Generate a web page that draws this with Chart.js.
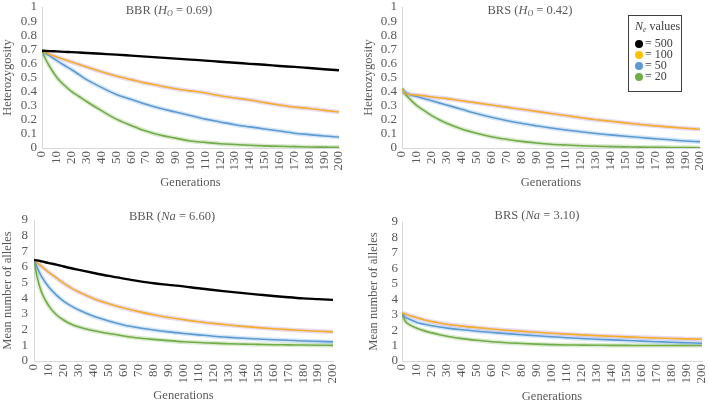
<!DOCTYPE html>
<html>
<head>
<meta charset="utf-8">
<script src="https://cdn.jsdelivr.net/npm/chart.js@4/dist/chart.umd.min.js"></script>
<style>
  html, body { margin: 0; padding: 0; background: #fff; }
  #wrap { position: relative; width: 709px; height: 404px; overflow: hidden;
          font-family: "Liberation Serif", "Times New Roman", serif; color: #595959; }
  canvas { position: absolute; }
  .ttl { position: absolute; font-size: 12.5px; line-height: 1; white-space: nowrap; transform: translate(-50%, -50%); }
  .ttl sub, .leg sub { font-size: 8px; vertical-align: -2px; line-height: 0; }
  .leg { position: absolute; left: 628px; top: 15px; width: 54px; height: 77px; border: 1.5px solid #404040;
         font-size: 12px; color: #404040; line-height: 11px; box-sizing: border-box; padding: 5px 0 0 6px; white-space: nowrap; }
  .leg .hd { margin-bottom: 6px; }
  .leg .dot { display: inline-block; width: 8px; height: 8px; border-radius: 50%; margin-right: 2px; vertical-align: -1px; }
</style>
</head>
<body>
<div id="wrap">
  <canvas id="hetBBR" width="355" height="200" style="left:0;top:0"></canvas>
  <canvas id="hetBRS" width="349" height="200" style="left:360px;top:0"></canvas>
  <canvas id="naBBR" width="355" height="204" style="left:0;top:200px"></canvas>
  <canvas id="naBRS" width="349" height="204" style="left:360px;top:200px"></canvas>

  <div class="ttl" style="left:169px;top:10px">BBR (<i>H<sub>O</sub></i> = 0.69)</div>
  <div class="ttl" style="left:530px;top:10px">BRS (<i>H<sub>O</sub></i> = 0.42)</div>
  <div class="ttl" style="left:172px;top:216px">BBR (<i>Na</i> = 6.60)</div>
  <div class="ttl" style="left:537px;top:215px">BRS (<i>Na</i> = 3.10)</div>

  <div class="leg">
    <div class="hd"><i>N<sub>e</sub></i> values</div>
    <div><span class="dot" style="background:#000"></span>= 500</div>
    <div><span class="dot" style="background:#FFC000"></span>= 100</div>
    <div><span class="dot" style="background:#5B9BD5"></span>= 50</div>
    <div><span class="dot" style="background:#70AD47"></span>= 20</div>
  </div>
</div>
<script>
  var gens = [0, 2, 5, 10, 15, 20, 25, 30, 40, 50, 60, 70, 80, 90, 100, 110, 120, 130, 140, 150, 160, 170, 180, 190, 200];

  // heterozygosity, BBR
  var hetBBR500 = [0.69, 0.689, 0.687, 0.685, 0.682, 0.68, 0.677, 0.674, 0.668, 0.662, 0.655, 0.648, 0.641, 0.634, 0.627, 0.62, 0.612, 0.605, 0.597, 0.59, 0.582, 0.575, 0.567, 0.559, 0.551];
  var hetBBR100 = [0.69, 0.68, 0.665, 0.645, 0.627, 0.61, 0.592, 0.575, 0.54, 0.51, 0.485, 0.46, 0.44, 0.42, 0.405, 0.39, 0.37, 0.355, 0.34, 0.322, 0.305, 0.29, 0.28, 0.267, 0.255];
  var hetBBR50 = [0.69, 0.675, 0.655, 0.62, 0.587, 0.555, 0.52, 0.485, 0.43, 0.38, 0.345, 0.31, 0.28, 0.255, 0.23, 0.205, 0.185, 0.165, 0.15, 0.135, 0.12, 0.105, 0.095, 0.085, 0.078];
  var hetBBR20 = [0.69, 0.64, 0.58, 0.5, 0.445, 0.4, 0.365, 0.33, 0.265, 0.205, 0.16, 0.12, 0.09, 0.07, 0.05, 0.04, 0.03, 0.025, 0.02, 0.015, 0.012, 0.01, 0.007, 0.006, 0.005];

  // heterozygosity, BRS
  var hetBRS100 = [0.42, 0.39, 0.38, 0.375, 0.37, 0.362, 0.356, 0.35, 0.335, 0.32, 0.305, 0.29, 0.275, 0.26, 0.245, 0.23, 0.215, 0.2, 0.19, 0.178, 0.167, 0.157, 0.148, 0.14, 0.133];
  var hetBRS50 = [0.42, 0.395, 0.38, 0.365, 0.35, 0.335, 0.32, 0.305, 0.275, 0.245, 0.218, 0.195, 0.175, 0.158, 0.142, 0.128, 0.115, 0.103, 0.093, 0.083, 0.074, 0.066, 0.058, 0.05, 0.045];
  var hetBRS20 = [0.42, 0.385, 0.35, 0.3, 0.265, 0.23, 0.2, 0.175, 0.135, 0.105, 0.08, 0.062, 0.047, 0.036, 0.027, 0.021, 0.016, 0.012, 0.01, 0.008, 0.006, 0.005, 0.004, 0.003, 0.002];

  // mean number of alleles, BBR
  var naBBR500 = [6.45, 6.42, 6.36, 6.25, 6.15, 6.03, 5.92, 5.82, 5.62, 5.43, 5.26, 5.1, 4.96, 4.86, 4.76, 4.64, 4.53, 4.43, 4.33, 4.24, 4.15, 4.07, 4.0, 3.95, 3.9];
  var naBBR100 = [6.45, 6.3, 6.05, 5.65, 5.3, 4.95, 4.65, 4.4, 3.98, 3.65, 3.38, 3.15, 2.95, 2.78, 2.64, 2.51, 2.4, 2.3, 2.21, 2.13, 2.06, 2.0, 1.95, 1.9, 1.86];
  var naBBR50 = [6.45, 6.0, 5.4, 4.7, 4.2, 3.8, 3.5, 3.25, 2.85, 2.55, 2.3, 2.12, 1.98, 1.86, 1.76, 1.67, 1.58, 1.51, 1.45, 1.4, 1.36, 1.32, 1.28, 1.25, 1.22];
  var naBBR20 = [6.45, 5.4, 4.4, 3.5, 2.95, 2.6, 2.35, 2.17, 1.93, 1.75, 1.6, 1.47, 1.38, 1.3, 1.23, 1.18, 1.14, 1.1, 1.08, 1.06, 1.04, 1.03, 1.02, 1.01, 1.0];

  // mean number of alleles, BRS
  var naBRS100 = [3.1, 3.05, 2.95, 2.8, 2.66, 2.55, 2.46, 2.38, 2.26, 2.16, 2.07, 1.99, 1.92, 1.86, 1.8, 1.74, 1.69, 1.64, 1.6, 1.56, 1.52, 1.49, 1.46, 1.43, 1.41];
  var naBRS50 = [3.1, 2.85, 2.7, 2.5, 2.38, 2.28, 2.2, 2.13, 2.02, 1.93, 1.85, 1.77, 1.7, 1.63, 1.57, 1.51, 1.46, 1.41, 1.37, 1.33, 1.29, 1.25, 1.21, 1.18, 1.15];
  var naBRS20 = [3.1, 2.6, 2.35, 2.12, 1.95, 1.82, 1.7, 1.6, 1.45, 1.34, 1.25, 1.18, 1.13, 1.09, 1.06, 1.04, 1.03, 1.02, 1.01, 1.01, 1.0, 1.0, 1.0, 1.0, 1.0];

  var FONT = "'Liberation Serif', 'Times New Roman', serif";
  var TEXT = '#595959';
  var AXIS = '#d9d9d9';
  var STYLE = {
    n500: { color: '#000000', width: 2.4, halo: null },
    n100: { color: '#F5AE25', width: 1.6, halo: 'rgba(185, 145, 215, 0.35)' },
    n50: { color: '#5B9BD5', width: 1.6, halo: 'rgba(91, 155, 213, 0.25)' },
    n20: { color: '#70AD47', width: 1.6, halo: 'rgba(112, 173, 71, 0.25)' }
  };

  function points(values) {
    return gens.map(function (g, i) { return { x: g, y: values[i] }; });
  }

  function buildDatasets(series) {
    var lines = [];
    var halos = [];
    series.forEach(function (s) {
      var st = STYLE[s.key];
      lines.push({
        data: points(s.values), borderColor: st.color, borderWidth: st.width,
        pointRadius: 0, cubicInterpolationMode: 'monotone', fill: false
      });
      if (st.halo) {
        halos.push({
          data: points(s.values), borderColor: st.halo, borderWidth: 4.5,
          pointRadius: 0, cubicInterpolationMode: 'monotone', fill: false
        });
      }
    });
    return lines.concat(halos);
  }

  function makePanel(id, p) {
    var el = document.getElementById(id);
    return new Chart(el, {
      type: 'line',
      data: { datasets: buildDatasets(p.series) },
      options: {
        responsive: false,
        animation: false,
        layout: { padding: { top: p.top, right: p.right, left: 0, bottom: 0 } },
        plugins: { legend: { display: false }, tooltip: { enabled: false }, title: { display: false } },
        scales: {
          x: {
            type: 'linear', min: 0, max: 200,
            afterFit: function (s) { s.height = p.xHeight; s.paddingLeft = 0; s.paddingRight = 0; },
            ticks: {
              stepSize: 10, autoSkip: false, minRotation: 90, maxRotation: 90, padding: 3,
              color: TEXT, font: { family: FONT, size: 13 }
            },
            grid: { color: 'rgba(0,0,0,0)', drawTicks: false },
            border: { color: AXIS, width: 1 },
            title: {
              display: true, text: 'Generations', color: TEXT,
              font: { family: FONT, size: 12.5 }, padding: { top: 0, bottom: p.xTitleBottom }
            }
          },
          y: {
            min: 0, max: p.yMax,
            afterFit: function (s) { s.width = p.yWidth; s.paddingTop = 0; s.paddingBottom = 0; },
            ticks: {
              stepSize: p.yStep, autoSkip: false, padding: p.yTickPad, color: TEXT, font: { family: FONT, size: 13 },
              callback: function (v) { return String(+v.toFixed(1)); }
            },
            grid: { color: 'rgba(0,0,0,0)', drawTicks: false },
            border: { color: AXIS, width: 1 },
            title: {
              display: true, text: p.yTitle, color: TEXT,
              font: { family: FONT, size: 12.5 }, padding: { top: p.yTitleTop, bottom: 0 }
            }
          }
        }
      }
    });
  }

  function drawAll() {
    Chart.defaults.font.family = FONT;

    makePanel('hetBBR', {
      top: 7, right: 16, xHeight: 52, yWidth: 42, yTickPad: 5, yTitleTop: 0, xTitleBottom: 10,
      yMax: 1, yStep: 0.1, yTitle: 'Heterozygosity',
      series: [
        { key: 'n500', values: hetBBR500 }, { key: 'n100', values: hetBBR100 },
        { key: 'n50', values: hetBBR50 }, { key: 'n20', values: hetBBR20 }
      ]
    });

    makePanel('hetBRS', {
      top: 7, right: 9, xHeight: 52, yWidth: 42, yTickPad: 5, yTitleTop: 1, xTitleBottom: 10,
      yMax: 1, yStep: 0.1, yTitle: 'Heterozygosity',
      series: [
        { key: 'n100', values: hetBRS100 }, { key: 'n50', values: hetBRS50 }, { key: 'n20', values: hetBRS20 }
      ]
    });

    makePanel('naBBR', {
      top: 20, right: 22, xHeight: 43, yWidth: 34, yTickPad: 6, yTitleTop: 0, xTitleBottom: 1,
      yMax: 9, yStep: 1, yTitle: 'Mean number of alleles',
      series: [
        { key: 'n500', values: naBBR500 }, { key: 'n100', values: naBBR100 },
        { key: 'n50', values: naBBR50 }, { key: 'n20', values: naBBR20 }
      ]
    });

    makePanel('naBRS', {
      top: 22, right: 7, xHeight: 43, yWidth: 42, yTickPad: 4, yTitleTop: 6, xTitleBottom: 0,
      yMax: 9, yStep: 1, yTitle: 'Mean number of alleles',
      series: [
        { key: 'n100', values: naBRS100 }, { key: 'n50', values: naBRS50 }, { key: 'n20', values: naBRS20 }
      ]
    });
  }

  // make sure the serif face is ready before the canvases paint text
  if (document.fonts && document.fonts.load) {
    document.fonts.load("12px 'Liberation Serif'").then(drawAll, drawAll);
  } else {
    drawAll();
  }
</script>
</body>
</html>
